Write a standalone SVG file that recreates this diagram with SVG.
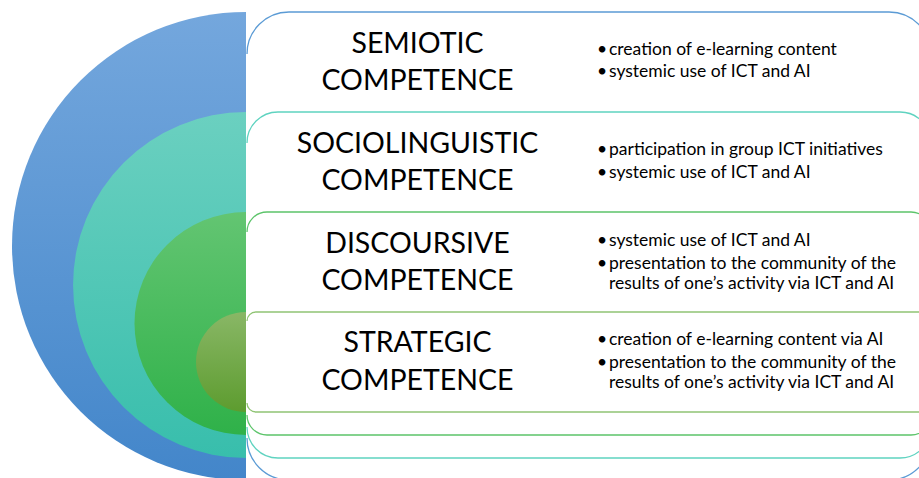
<svg xmlns="http://www.w3.org/2000/svg" width="919" height="478" viewBox="0 0 919 478">
<defs>
<linearGradient id="gBlue" x1="0" y1="0" x2="0" y2="1"><stop offset="0" stop-color="#74A7DD"/><stop offset="1" stop-color="#4386CA"/></linearGradient>
<linearGradient id="gTeal" x1="0" y1="0" x2="0" y2="1"><stop offset="0" stop-color="#6BD0C0"/><stop offset="1" stop-color="#38BEAC"/></linearGradient>
<linearGradient id="gGreen" x1="0" y1="0" x2="0" y2="1"><stop offset="0" stop-color="#63C572"/><stop offset="1" stop-color="#2FB149"/></linearGradient>
<linearGradient id="gOlive" x1="0" y1="0" x2="0" y2="1"><stop offset="0" stop-color="#89B766"/><stop offset="1" stop-color="#5D9C2F"/></linearGradient>
</defs>
<style>
.box{fill:#FFFFFF;stroke:none}
.edge{fill:none;stroke-width:1.3}
.title{font-family:Lato,"Liberation Sans",sans-serif;font-size:28.5px;fill:#000000;text-anchor:middle}
.item{font-family:Lato,"Liberation Sans",sans-serif;font-size:17.5px;fill:#000000}
</style>
<g id="circles">
<path d="M246 12 A234 234 0 0 0 246 480 Z" fill="url(#gBlue)"/>
<path d="M246 112 A173 173 0 0 0 246 458 Z" fill="url(#gTeal)"/>
<path d="M246 212 A111.5 111.5 0 0 0 246 435 Z" fill="url(#gGreen)"/>
<path d="M246 312 A50 50 0 0 0 246 412 Z" fill="url(#gOlive)"/>
</g>
<g id="semiotic">
<path class="box" d="M247 54 A42 42 0 0 1 289 12 H889 A42 42 0 0 1 931 54 V438 A42 42 0 0 1 889 480 H289 A42 42 0 0 1 247 438 Z"/>
<path class="edge" stroke="#5B9BD5" d="M247 438 A42 42 0 0 0 289 480 H889 A42 42 0 0 0 931 438 V54 A42 42 0 0 0 889 12 H289 A42 42 0 0 0 247 54"/>
<text class="title" x="417.5" y="53">SEMIOTIC</text>
<text class="title" x="417.5" y="90">COMPETENCE</text>
<text class="item" x="597" y="55">•</text><text class="item" x="609" y="55">creation of e-learning content</text>
<text class="item" x="597" y="77">•</text><text class="item" x="609" y="77">systemic use of ICT and AI</text>
</g>
<g id="sociolinguistic">
<path class="box" d="M247 143 A31 31 0 0 1 278 112 H900 A31 31 0 0 1 931 143 V427 A31 31 0 0 1 900 458 H278 A31 31 0 0 1 247 427 Z"/>
<path class="edge" stroke="#5FD3C0" d="M247 427 A31 31 0 0 0 278 458 H900 A31 31 0 0 0 931 427 V143 A31 31 0 0 0 900 112 H278 A31 31 0 0 0 247 143"/>
<text class="title" x="417.5" y="153">SOCIOLINGUISTIC</text>
<text class="title" x="417.5" y="190">COMPETENCE</text>
<text class="item" x="597" y="155">•</text><text class="item" x="609" y="155">participation in group ICT initiatives</text>
<text class="item" x="597" y="178">•</text><text class="item" x="609" y="178">systemic use of ICT and AI</text>
</g>
<g id="discoursive">
<path class="box" d="M247 232 A20 20 0 0 1 267 212 H911 A20 20 0 0 1 931 232 V415 A20 20 0 0 1 911 435 H267 A20 20 0 0 1 247 415 Z"/>
<path class="edge" stroke="#5CC46A" d="M247 415 A20 20 0 0 0 267 435 H911 A20 20 0 0 0 931 415 V232 A20 20 0 0 0 911 212 H267 A20 20 0 0 0 247 232"/>
<text class="title" x="417.5" y="253">DISCOURSIVE</text>
<text class="title" x="417.5" y="290">COMPETENCE</text>
<text class="item" x="597" y="246">•</text><text class="item" x="609" y="246">systemic use of ICT and AI</text>
<text class="item" x="597" y="269">•</text><text class="item" x="609" y="269">presentation to the community of the</text>
<text class="item" x="609" y="289">results of one’s activity via ICT and AI</text>
</g>
<g id="strategic">
<path class="box" d="M247 321 A9 9 0 0 1 256 312 H922 A9 9 0 0 1 931 321 V403 A9 9 0 0 1 922 412 H256 A9 9 0 0 1 247 403 Z"/>
<path class="edge" stroke="#90C474" d="M247 403 A9 9 0 0 0 256 412 H922 A9 9 0 0 0 931 403 V321 A9 9 0 0 0 922 312 H256 A9 9 0 0 0 247 321"/>
<text class="title" x="417.5" y="352">STRATEGIC</text>
<text class="title" x="417.5" y="390">COMPETENCE</text>
<text class="item" x="597" y="345">•</text><text class="item" x="609" y="345">creation of e-learning content via AI</text>
<text class="item" x="597" y="368">•</text><text class="item" x="609" y="368">presentation to the community of the</text>
<text class="item" x="609" y="388">results of one’s activity via ICT and AI</text>
</g>
<g id="connectors"></g>
</svg>
